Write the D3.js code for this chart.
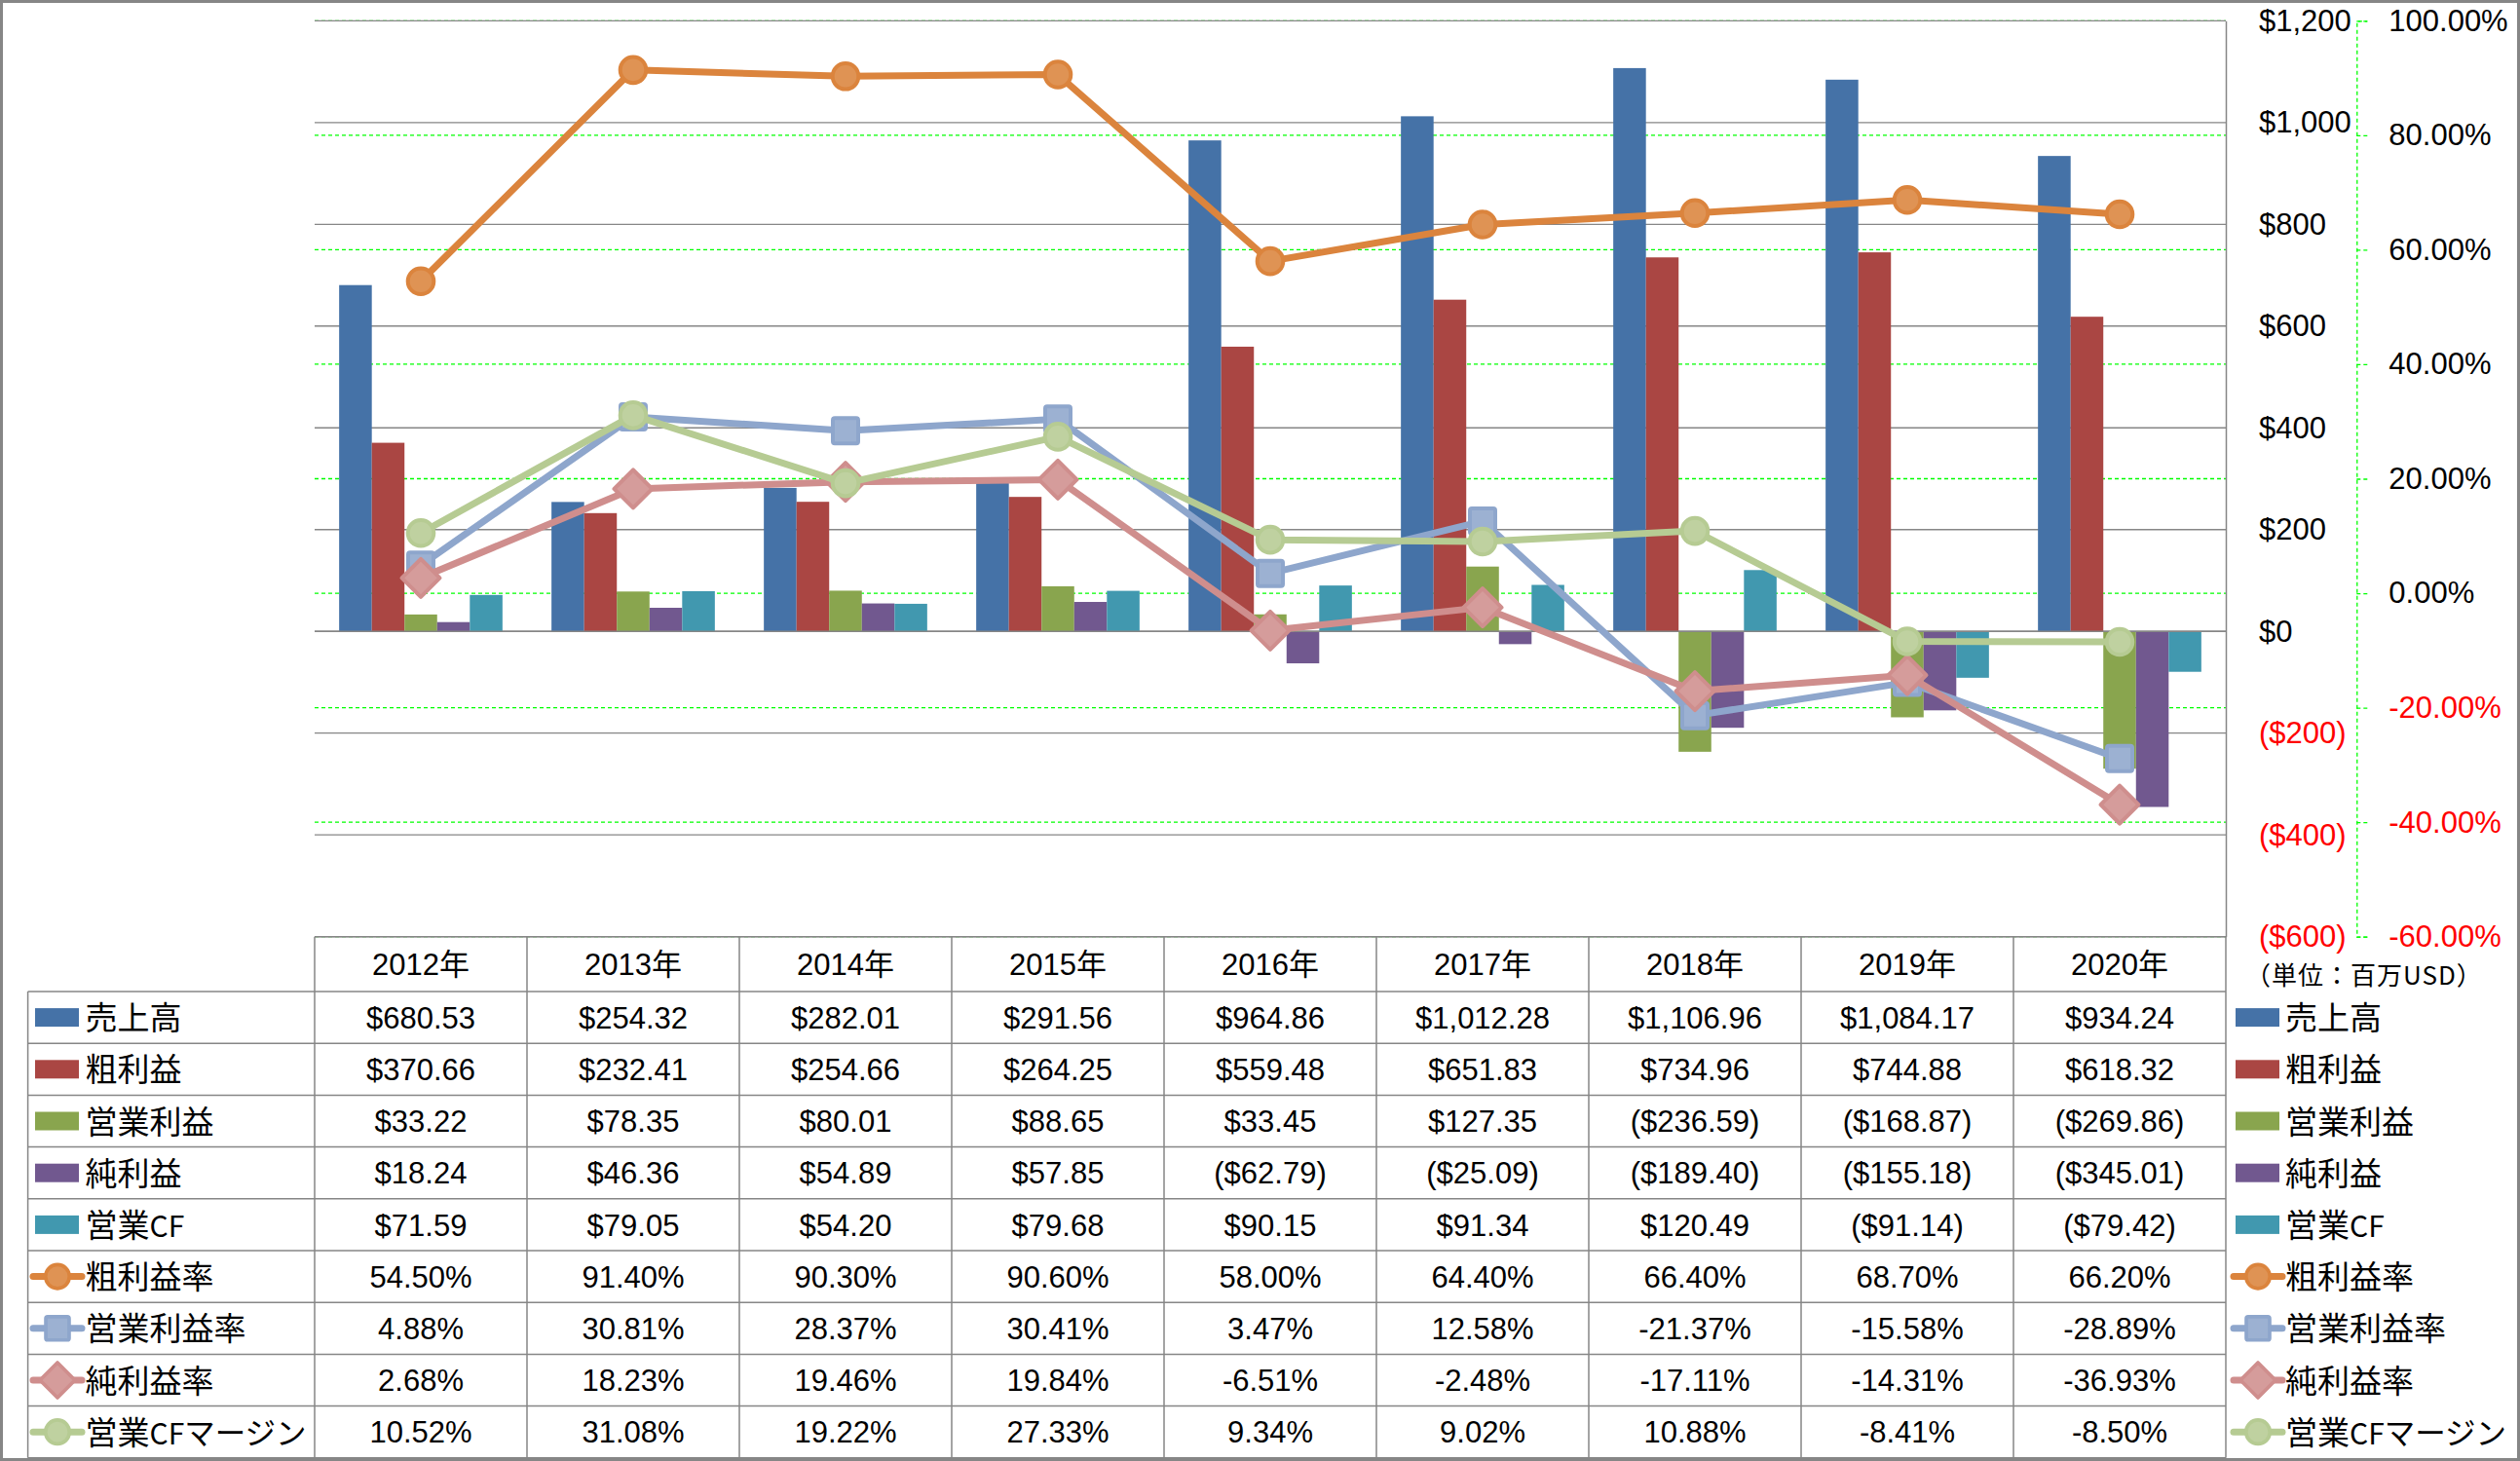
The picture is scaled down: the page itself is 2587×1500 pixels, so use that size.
<!DOCTYPE html>
<html><head><meta charset="utf-8">
<script src="https://cdn.jsdelivr.net/npm/d3@7"></script>
<style>
body{margin:0;background:#fff;}
svg{display:block;}
</style></head><body>
<svg id="chart" width="2587" height="1500"></svg>
<script>
// ---------- data ----------
const years = ["2012年","2013年","2014年","2015年","2016年","2017年","2018年","2019年","2020年"];
const barSeries = ["売上高","粗利益","営業利益","純利益","営業CF"];
const lineSeries = ["粗利益率","営業利益率","純利益率","営業CFマージン"];

const sales        = [680.53, 254.32, 282.01, 291.56, 964.86, 1012.28, 1106.96, 1084.17, 934.24];
const grossProfit  = [370.66, 232.41, 254.66, 264.25, 559.48, 651.83, 734.96, 744.88, 618.32];
const opProfit     = [33.22, 78.35, 80.01, 88.65, 33.45, 127.35, -236.59, -168.87, -269.86];
const netProfit    = [18.24, 46.36, 54.89, 57.85, -62.79, -25.09, -189.40, -155.18, -345.01];
const opCF         = [71.59, 79.05, 54.20, 79.68, 90.15, 91.34, 120.49, -91.14, -79.42];

const grossMargin  = [54.50, 91.40, 90.30, 90.60, 58.00, 64.40, 66.40, 68.70, 66.20];
const opMargin     = [4.88, 30.81, 28.37, 30.41, 3.47, 12.58, -21.37, -15.58, -28.89];
const netMargin    = [2.68, 18.23, 19.46, 19.84, -6.51, -2.48, -17.11, -14.31, -36.93];
const cfMargin     = [10.52, 31.08, 19.22, 27.33, 9.34, 9.02, 10.88, -8.41, -8.50];

const leftTicks  = [1200, 1000, 800, 600, 400, 200, 0, -200, -400, -600];
const rightTicks = [100, 80, 60, 40, 20, 0, -20, -40, -60];
const unitLabel = "（単位：百万USD）";

const barValues  = [sales, grossProfit, opProfit, netProfit, opCF];
const lineValues = [grossMargin, opMargin, netMargin, cfMargin];

// ---------- styles ----------
const barColors  = ["#4572A7", "#AA4643", "#89A54E", "#71588F", "#4198AF"];
const lineColors = ["#DB843D", "#8EA6CC", "#CF8E8D", "#B6CB93"];
const markerTypes = ["circle", "square", "diamond", "circle"];
const gridGray = "#868686";
const numFont = "'Liberation Sans', 'Noto Sans CJK JP', sans-serif";
const jpFont = "'Noto Sans CJK JP', sans-serif";

const W = 2587, H = 1500;
const plotL = 323, plotR = 2285, plotT = 21.3, plotB = 961.7;
const tableLeft = 28.6, headerBottom = 1018, rowH = 53.2;

const svg = d3.select("#chart");
const loc = d3.formatLocale({decimal: ".", thousands: ",", grouping: [3], currency: ["$", ""], minus: "-"});

const x = d3.scaleBand().domain(years).range([plotL, plotR]).padding(0);
const bw = x.bandwidth();
const gap = bw * 0.75 / 6.5;
const xs = d3.scaleBand().domain(barSeries).range([gap, bw - gap]).padding(0);
const yL = d3.scaleLinear().domain([-600, 1200]).range([plotB, plotT]);
const yR = d3.scaleLinear().domain([-60, 100]).range([plotB, plotT]);

const fmtMoney0 = v => v < 0 ? "($" + loc.format(",")(-v) + ")" : "$" + loc.format(",")(v);
const fmtMoney2 = v => v < 0 ? "($" + loc.format(",.2f")(-v) + ")" : "$" + loc.format(",.2f")(v);
const fmtPct = v => loc.format(".2f")(v) + "%";

// ---------- gridlines ----------
const grid = svg.append("g");
grid.selectAll("line.gr").data(rightTicks).join("line")
  .attr("x1", plotL).attr("x2", plotR)
  .attr("y1", d => yR(d)).attr("y2", d => yR(d))
  .attr("stroke", "#00FF00").attr("stroke-width", 1.3).attr("stroke-dasharray", "4,3");
grid.selectAll("line.gl").data(leftTicks).join("line")
  .attr("x1", plotL).attr("x2", plotR)
  .attr("y1", d => yL(d)).attr("y2", d => yL(d))
  .attr("stroke", gridGray).attr("stroke-width", 1.3);

// ---------- bars ----------
const barG = svg.append("g");
barSeries.forEach((s, si) => {
  barG.append("g").selectAll("rect").data(barValues[si]).join("rect")
    .attr("x", (d, i) => x(years[i]) + xs(s))
    .attr("width", xs.bandwidth())
    .attr("y", d => Math.min(yL(d), yL(0)))
    .attr("height", d => Math.abs(yL(d) - yL(0)))
    .attr("fill", barColors[si]);
});
svg.append("line").attr("x1", plotL).attr("x2", plotR)
  .attr("y1", yL(0)).attr("y2", yL(0)).attr("stroke", gridGray).attr("stroke-width", 1.5);

// ---------- markers ----------
function drawMarker(g, type, cx, cy, color, scale) {
  const fill = d3.interpolateRgb(color, "#ffffff")(0.12);
  const sw = 4 * scale;
  if (type === "circle") {
    g.append("circle").attr("cx", cx).attr("cy", cy).attr("r", 13.3 * scale)
      .attr("fill", fill).attr("stroke", color).attr("stroke-width", sw);
  } else if (type === "square") {
    const s = 26 * scale;
    g.append("rect").attr("x", cx - s / 2).attr("y", cy - s / 2).attr("width", s).attr("height", s)
      .attr("rx", 2 * scale)
      .attr("fill", fill).attr("stroke", color).attr("stroke-width", sw).attr("stroke-linejoin", "round");
  } else {
    const h = 19.5 * scale;
    g.append("path").attr("d", `M${cx},${cy - h}L${cx + h},${cy}L${cx},${cy + h}L${cx - h},${cy}Z`)
      .attr("fill", fill).attr("stroke", color).attr("stroke-width", sw).attr("stroke-linejoin", "round");
  }
}

// ---------- lines ----------
const lineG = svg.append("g");
lineSeries.forEach((s, si) => {
  const g = lineG.append("g");
  const line = d3.line().x((d, i) => x(years[i]) + bw / 2).y(d => yR(d));
  g.append("path").datum(lineValues[si]).attr("d", line)
    .attr("fill", "none").attr("stroke", lineColors[si]).attr("stroke-width", 7)
    .attr("stroke-linejoin", "round").attr("stroke-linecap", "round");
  lineValues[si].forEach((d, i) => drawMarker(g, markerTypes[si], x(years[i]) + bw / 2, yR(d), lineColors[si], 1));
});

// ---------- axes ----------
const axL = svg.append("g").attr("transform", `translate(${plotR},0)`)
  .call(d3.axisRight(yL).tickValues(leftTicks).tickFormat(fmtMoney0).tickSize(0).tickPadding(34));
axL.select(".domain").attr("stroke", gridGray).attr("stroke-width", 1.5);
axL.selectAll("text").attr("font-family", numFont).attr("font-size", 31)
  .attr("fill", d => d < 0 ? "#FF0000" : "#000");

const axR = svg.append("g").attr("transform", `translate(2419.3,0)`)
  .call(d3.axisRight(yR).tickValues(rightTicks).tickFormat(fmtPct).tickSize(11).tickSizeOuter(11).tickPadding(22));
axR.select(".domain").attr("stroke", "#00FF00").attr("stroke-width", 1.3).attr("stroke-dasharray", "4,3");
axR.selectAll(".tick line").attr("stroke", "#00FF00").attr("stroke-width", 1.3).attr("stroke-dasharray", "4,3");
axR.selectAll("text").attr("font-family", numFont).attr("font-size", 31)
  .attr("fill", d => d < 0 ? "#FF0000" : "#000");

// ---------- data table ----------
const tbl = svg.append("g");
const nRows = barSeries.length + lineSeries.length;
const rowY = i => headerBottom + i * rowH;
const tableBottom = rowY(nRows);
tbl.append("line").attr("x1", plotL).attr("x2", plotR).attr("y1", plotB).attr("y2", plotB)
  .attr("stroke", gridGray).attr("stroke-width", 1.5);
d3.range(nRows + 1).forEach(i => {
  tbl.append("line").attr("x1", tableLeft).attr("x2", plotR).attr("y1", rowY(i)).attr("y2", rowY(i))
    .attr("stroke", gridGray).attr("stroke-width", 1.5);
});
years.forEach(yv => {
  tbl.append("line").attr("x1", x(yv)).attr("x2", x(yv)).attr("y1", plotB).attr("y2", tableBottom)
    .attr("stroke", gridGray).attr("stroke-width", 1.5);
});
tbl.append("line").attr("x1", plotR).attr("x2", plotR).attr("y1", plotB).attr("y2", tableBottom)
  .attr("stroke", gridGray).attr("stroke-width", 1.5);
tbl.append("line").attr("x1", tableLeft).attr("x2", tableLeft).attr("y1", headerBottom).attr("y2", tableBottom)
  .attr("stroke", gridGray).attr("stroke-width", 1.5);

tbl.selectAll("text.hdr").data(years).join("text")
  .attr("x", d => x(d) + bw / 2).attr("y", (plotB + headerBottom) / 2).attr("dy", "0.36em")
  .attr("text-anchor", "middle").attr("font-family", numFont).attr("font-size", 31).text(d => d);

const allRows = barValues.map(v => v.map(fmtMoney2)).concat(lineValues.map(v => v.map(fmtPct)));
allRows.forEach((vals, ri) => {
  tbl.append("g").selectAll("text").data(vals).join("text")
    .attr("x", (d, i) => x(years[i]) + bw / 2).attr("y", rowY(ri) + rowH / 2).attr("dy", "0.36em")
    .attr("text-anchor", "middle").attr("font-family", numFont).attr("font-size", 31).text(d => d);
});

// legend keys
const allNames = barSeries.concat(lineSeries);
function labelText(g, tx, cy, str) {
  const t = g.append("text").attr("x", tx).attr("y", cy).attr("dy", "0.38em")
    .attr("font-family", jpFont).attr("font-size", 33);
  (str.match(/[A-Za-z]+|[\u30A0-\u30FF]+|[^A-Za-z\u30A0-\u30FF]+/g) || []).forEach(run => {
    const sp = t.append("tspan").text(run);
    if (/^[A-Za-z]/.test(run)) sp.attr("font-size", 30);
    else if (/^[\u30A0-\u30FF]/.test(run)) sp.attr("font-size", 31.5);
  });
}
function legendKey(g, ri, kx, tx) {
  const cy = rowY(ri) + rowH / 2;
  if (ri < barSeries.length) {
    g.append("rect").attr("x", kx).attr("y", cy - 9.5).attr("width", 45).attr("height", 19)
      .attr("fill", barColors[ri]);
  } else {
    const li = ri - barSeries.length;
    g.append("line").attr("x1", kx - 2).attr("x2", kx + 48).attr("y1", cy).attr("y2", cy)
      .attr("stroke", lineColors[li]).attr("stroke-width", 7).attr("stroke-linecap", "round");
    drawMarker(g, markerTypes[li], kx + 23, cy, lineColors[li], 0.92);
  }
  labelText(g, tx, cy, allNames[ri]);
}
const leg = svg.append("g");
allNames.forEach((n, ri) => {
  legendKey(leg, ri, 36, 87.5);
  legendKey(leg, ri, 2295, 2346);
});

svg.append("text").attr("x", 2305).attr("y", 1001).attr("dy", "0.38em")
  .attr("font-family", jpFont).attr("font-size", 26).attr("letter-spacing", 1).text(unitLabel);

svg.append("rect").attr("x", 1.5).attr("y", 1.5).attr("width", W - 3).attr("height", H - 3)
  .attr("fill", "none").attr("stroke", gridGray).attr("stroke-width", 3);
</script>
</body></html>
